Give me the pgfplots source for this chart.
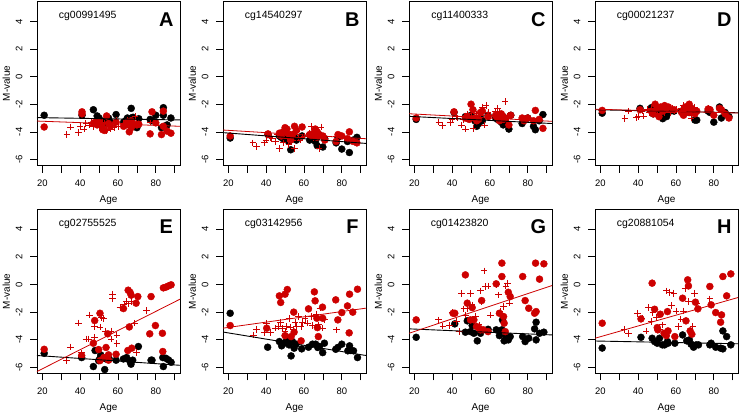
\documentclass[border=0pt]{standalone}
\usepackage{pgfplots}
\pgfplotsset{compat=1.18}
\usepackage{fontspec}
\setmainfont{Liberation Sans}
\definecolor{rd}{RGB}{205,0,0}
\pgfplotsset{
 panel/.style={
  scale only axis, width=143bp, height=164bp,
  xmin=17.2, xmax=92.8, ymin=-6.44, ymax=5.44,
  xtick={20,30,...,90}, xticklabels={20,,40,,60,,80,},
  ytick={-6,-4,-2,0,2,4}, yticklabels={-6,-4,-2,0,2,4},
  tick align=outside, tick pos=left,
  major tick length=7bp,
  tick style={black, line width=0.6bp},
  axis line style={line width=0.8bp},
  yticklabel style={rotate=90, anchor=south, font=\fontsize{9.5}{11}\selectfont},
  yticklabel shift=4bp,
  xticklabel style={font=\fontsize{9.5}{11}\selectfont},
  xticklabel shift=4bp,
  clip mode=individual,
  anchor=north west,
 },
 bk/.style={only marks, mark=*, mark size=3.5bp, black, mark options={fill=black, draw=black}},
 rdot/.style={only marks, mark=*, mark size=3.5bp, rd, mark options={fill=rd, draw=rd}},
 rplus/.style={only marks, mark=+, mark size=3.3bp, rd, mark options={line width=0.8bp}},
 bline/.style={black, line width=0.9bp, no marks},
 rline/.style={rd, line width=0.8bp, no marks},
}
\newcommand{\cgname}[1]{\node[font=\fontsize{10.5}{12}\selectfont] at (axis cs:44,4.4) {#1};
 \node[font=\fontsize{10}{12}\selectfont, rotate=90] at (rel axis cs:-0.215,0.5) {M-value};
 \node[font=\fontsize{10}{12}\selectfont] at (rel axis cs:0.5,-0.213) {Age};}
\newcommand{\plabel}[1]{\node[font=\bfseries\fontsize{20}{22}\selectfont] at (axis cs:85.6,4.15) {#1};}
\begin{document}
\begin{tikzpicture}
\useasboundingbox (0,0) rectangle (740bp,-414bp);
% ---------------- A
\begin{axis}[panel, at={(37bp,-1.5bp)}]
\addplot[bk] coordinates {(21,-2.8)(41,-2.8)(47,-2.4)(48,-3.4)(49,-2.85)(50,-3.0)(51,-3.3)(52,-3.4)(53,-3.3)(54,-3.1)(55,-3.0)(56,-3.3)(59,-2.75)(63,-3.3)(64,-3.2)(65,-3.0)(66,-3.1)(67,-2.3)(67,-3.0)(68,-2.95)(70,-3.7)(71,-3.05)(77,-3.1)(78,-3.2)(80,-2.8)(83,-3.7)(84,-2.25)(84,-2.8)(86,-3.5)(88,-3.0)};
\addplot[rdot] coordinates {(21,-3.65)(41,-2.55)(41,-2.7)(47,-3.4)(48,-3.3)(49,-3.5)(50,-3.3)(51,-3.5)(52,-3.85)(53,-3.9)(54,-2.85)(55,-3.4)(56,-3.6)(59,-3.3)(63,-3.6)(64,-3.5)(65,-3.3)(66,-4.0)(67,-3.7)(67,-3.2)(68,-3.4)(70,-3.5)(71,-3.45)(77,-4.15)(78,-2.55)(80,-3.35)(83,-4.2)(84,-2.5)(84,-3.6)(86,-3.95)(88,-4.1)};
\addplot[rplus] coordinates {(33,-4.2)(35,-3.65)(39,-4.05)(40,-3.6)(42,-3.8)(43,-3.4)(45,-3.5)(46,-3.3)(47,-3.6)(48,-3.4)(49,-3.5)(50,-3.7)(51,-3.6)(52,-3.3)(53,-3.4)(54,-3.9)(55,-3.6)(56,-3.8)(57,-3.5)(58,-3.7)(59,-3.2)(60,-3.6)(63,-3.4)(64,-3.5)(65,-3.2)(66,-3.7)(68,-3.3)(69,-2.9)(70,-3.4)(77,-3.3)};
\addplot[bline] coordinates {(17.2,-2.97)(92.8,-3.14)};
\addplot[rline] coordinates {(17.2,-3.22)(92.8,-3.60)};
\cgname{cg00991495}\plabel{A}
\end{axis}
% ---------------- B
\begin{axis}[panel, at={(223bp,-1.5bp)}]
\addplot[bk] coordinates {(21,-4.45)(41,-4.2)(47,-4.3)(48,-4.4)(49,-4.5)(50,-4.3)(51,-4.6)(52,-4.7)(53,-5.3)(54,-4.5)(55,-4.4)(56,-4.6)(59,-4.3)(63,-4.6)(64,-4.5)(65,-4.4)(66,-4.7)(67,-5.0)(67,-4.3)(68,-4.2)(70,-5.1)(71,-4.5)(77,-4.8)(78,-4.4)(80,-5.25)(83,-4.7)(84,-5.5)(86,-4.6)(88,-4.4)};
\addplot[rdot] coordinates {(21,-4.3)(41,-4.15)(47,-4.1)(48,-4.3)(49,-4.0)(50,-3.7)(51,-3.8)(52,-4.2)(53,-4.6)(54,-4.2)(55,-3.6)(56,-3.9)(59,-3.65)(63,-4.2)(64,-4.3)(65,-4.1)(66,-3.8)(67,-4.0)(67,-4.4)(68,-4.2)(70,-4.3)(71,-4.6)(77,-4.7)(78,-4.2)(80,-4.3)(83,-4.5)(84,-4.0)(86,-4.7)(88,-4.8)};
\addplot[rplus] coordinates {(33,-4.8)(35,-5.05)(39,-4.8)(40,-4.6)(42,-4.4)(43,-4.5)(45,-4.7)(46,-4.2)(47,-5.2)(48,-4.3)(49,-4.8)(50,-4.1)(51,-4.5)(52,-4.9)(53,-4.2)(54,-4.6)(55,-5.2)(56,-4.0)(57,-4.4)(58,-4.6)(59,-4.4)(60,-4.3)(63,-4.1)(64,-3.6)(65,-4.4)(66,-4.0)(68,-5.2)(69,-3.65)(70,-4.4)(77,-4.3)};
\addplot[bline] coordinates {(17.2,-4.06)(92.8,-4.84)};
\addplot[rline] coordinates {(17.2,-3.87)(92.8,-4.50)};
\cgname{cg14540297}\plabel{B}
\end{axis}
% ---------------- C
\begin{axis}[panel, at={(409bp,-1.5bp)}]
\addplot[bk] coordinates {(21,-3.1)(41,-2.6)(47,-2.9)(48,-3.0)(49,-2.9)(50,-2.8)(51,-3.0)(52,-3.2)(53,-3.6)(54,-3.4)(55,-3.0)(56,-3.2)(59,-2.8)(63,-3.0)(64,-3.1)(65,-2.9)(66,-3.3)(67,-3.5)(67,-2.9)(68,-3.2)(70,-3.8)(71,-2.8)(77,-3.4)(78,-3.1)(80,-3.0)(83,-3.6)(84,-3.85)(86,-3.2)(88,-2.75)};
\addplot[rdot] coordinates {(21,-3.0)(41,-2.55)(47,-3.0)(48,-2.9)(49,-3.1)(50,-2.0)(51,-2.4)(52,-3.0)(53,-3.2)(54,-3.1)(55,-2.6)(56,-2.5)(59,-2.9)(63,-2.8)(64,-3.0)(65,-3.2)(66,-2.7)(67,-3.1)(67,-2.9)(68,-3.0)(70,-3.5)(71,-2.8)(77,-3.0)(78,-3.2)(80,-3.0)(83,-3.2)(84,-2.45)(86,-3.1)(88,-3.75)};
\addplot[rplus] coordinates {(33,-3.3)(35,-3.55)(39,-3.35)(40,-3.1)(42,-2.9)(43,-3.0)(45,-3.5)(46,-3.1)(47,-3.8)(48,-2.7)(49,-3.0)(50,-2.9)(51,-3.75)(52,-3.0)(53,-2.7)(54,-3.2)(55,-2.8)(56,-2.2)(57,-3.5)(58,-2.1)(59,-2.6)(60,-2.8)(63,-2.5)(64,-2.3)(65,-2.6)(66,-3.0)(68,-1.8)(69,-2.9)(70,-3.0)(77,-3.0)};
\addplot[bline] coordinates {(17.2,-2.88)(92.8,-3.40)};
\addplot[rline] coordinates {(17.2,-2.69)(92.8,-3.24)};
\cgname{cg11400333}\plabel{C}
\end{axis}
% ---------------- D
\begin{axis}[panel, at={(595bp,-1.5bp)}]
\addplot[bk] coordinates {(21,-2.65)(41,-2.3)(47,-2.25)(48,-2.7)(49,-2.5)(50,-2.6)(51,-2.8)(52,-2.9)(53,-3.05)(54,-2.7)(55,-2.9)(56,-2.6)(59,-2.5)(63,-2.5)(64,-2.7)(65,-2.5)(66,-2.4)(67,-2.6)(67,-2.2)(68,-2.3)(70,-3.15)(71,-3.15)(77,-2.5)(78,-2.6)(80,-3.3)(83,-2.2)(84,-3.0)(86,-2.6)(88,-2.9)};
\addplot[rdot] coordinates {(21,-2.45)(41,-2.4)(47,-2.5)(48,-2.7)(49,-2.0)(50,-2.3)(51,-2.9)(52,-2.2)(53,-2.5)(54,-2.1)(55,-2.3)(56,-2.2)(59,-2.4)(63,-2.6)(64,-2.8)(65,-2.2)(66,-2.4)(67,-2.0)(67,-2.6)(68,-2.3)(70,-2.7)(71,-2.5)(77,-2.35)(78,-2.4)(80,-2.8)(83,-2.3)(84,-2.4)(86,-2.7)(88,-3.0)};
\addplot[rplus] coordinates {(33,-3.05)(35,-2.5)(39,-2.95)(40,-2.9)(42,-2.5)(43,-2.85)(45,-2.4)(46,-2.6)(47,-2.3)(48,-2.7)(49,-2.4)(50,-2.8)(51,-2.3)(52,-2.7)(53,-2.3)(54,-2.6)(55,-2.4)(56,-2.2)(57,-2.6)(58,-2.3)(59,-2.5)(60,-2.4)(63,-2.3)(64,-2.1)(65,-2.5)(66,-2.1)(68,-3.0)(69,-2.4)(70,-2.2)(77,-2.3)};
\addplot[bline] coordinates {(17.2,-2.40)(92.8,-2.62)};
\addplot[rline] coordinates {(17.2,-2.36)(92.8,-2.64)};
\cgname{cg00021237}\plabel{D}
\end{axis}
% ---------------- E
\begin{axis}[panel, at={(37bp,-209.3bp)}]
\addplot[bk] coordinates {(21,-4.99)(40.8,-5.30)(47,-5.95)(47.9,-4.79)(49.8,-5.52)(50.5,-5.35)(50.9,-5.11)(52.6,-5.35)(53,-6.17)(54,-5.42)(55.3,-5.37)(59,-5.49)(62.9,-5.40)(64.6,-5.30)(66.4,-5.59)(66.9,-5.78)(67.8,-5.49)(70.8,-4.50)(77.5,-5.49)(78,-5.49)(83.7,-5.30)(84,-5.95)(85.3,-5.35)(86.7,-5.47)(88.1,-5.64)};
\addplot[rdot] coordinates {(21,-4.70)(40.8,-5.15)(47,-4.26)(47.7,-2.62)(49.8,-4.72)(50.5,-2.09)(50.5,-5.52)(52.5,-5.3)(53.7,-4.57)(54.6,-3.58)(55,-5.49)(55,-5.1)(59,-5.06)(62.9,-1.75)(65.2,-4.79)(65.4,-0.42)(66.4,-0.57)(66,-3.08)(67,-0.78)(67.3,-4.62)(69.6,-1.36)(70.5,-0.88)(76.8,-3.58)(77.5,-0.88)(79.8,-2.98)(83.7,-4.86)(83.5,-3.54)(84,-0.25)(85.3,-0.20)(86.7,-0.11)(88.1,-0.03)};
\addplot[rplus] coordinates {(32.9,-5.54)(34.8,-4.53)(39.2,-2.79)(40.6,-4.96)(43.1,-3.95)(44.5,-3.95)(44.9,-2.21)(47.5,-3.05)(47.7,-3.85)(50.5,-3.10)(51.2,-2.40)(52.3,-2.45)(53.2,-3.37)(56.4,-3.95)(56.4,-3.37)(57.1,-0.71)(57.1,-1.05)(59.4,-4.26)(59.4,-3.66)(61.1,-1.68)(63.2,-1.43)(64.3,-1.24)(65.5,-1.41)(67.3,-1.24)(69.9,-4.94)(75.2,-1.89)(68.9,-2.81)};
\addplot[bline] coordinates {(17.2,-5.15)(92.8,-5.86)};
\addplot[rline] coordinates {(17.2,-6.31)(92.8,-1.07)};
\cgname{cg02755525}\plabel{E}
\end{axis}
% ---------------- F
\begin{axis}[panel, at={(223bp,-209.3bp)}]
\addplot[bk] coordinates {(21,-2.09)(40.8,-4.55)(47,-4.14)(48.2,-4.45)(49.6,-4.26)(50.9,-4.02)(52.1,-4.38)(53.2,-5.18)(53.9,-4.14)(54.8,-4.62)(55.8,-4.33)(58.8,-4.67)(62.4,-4.55)(64.5,-4.33)(66.2,-4.33)(67.3,-4.57)(68.2,-4.50)(69.9,-4.94)(70.8,-4.26)(76.8,-4.70)(77.9,-4.57)(80,-4.33)(83.2,-4.81)(84.1,-4.45)(84.8,-4.79)(86.2,-4.81)(88.3,-5.30)};
\addplot[rdot] coordinates {(21,-2.98)(40.3,-3.17)(47,-0.83)(47.7,-1.31)(50,-0.71)(51.2,-0.37)(50,-3.71)(53.2,-3.78)(54.6,-2.01)(54.8,-3.46)(58.5,-4.09)(62.4,-1.77)(65.5,-0.54)(65.9,-1.19)(66.8,-2.45)(67.1,-3.13)(67.6,-3.78)(69.8,-1.65)(69.9,-2.45)(76.8,-1.12)(77.9,-2.57)(80,-2.04)(83,-1.56)(84.1,-0.71)(83.9,-3.51)(85.8,-2.01)(88.3,-0.35)};
\addplot[rplus] coordinates {(33.2,-3.66)(35,-3.25)(39,-3.49)(40.3,-2.81)(42.4,-3.49)(44.7,-3.17)(46.5,-3.05)(47.7,-2.74)(48.8,-3.17)(50,-3.42)(50.9,-3.05)(52.1,-2.45)(52.6,-3.08)(54.4,-3.29)(55.3,-2.74)(56.2,-3.05)(57.1,-2.33)(58.5,-3.05)(59.2,-2.74)(60.6,-2.45)(62,-2.81)(63.8,-2.33)(64.6,-2.98)(66.4,-2.16)(67.6,-2.93)(68.5,-1.72)(69.9,-3.17)(77.3,-3.29)(71,-2.57)};
\addplot[bline] coordinates {(17.2,-3.45)(92.8,-5.15)};
\addplot[rline] coordinates {(17.2,-3.17)(92.8,-1.72)};
\cgname{cg03142956}\plabel{F}
\end{axis}
% ---------------- G
\begin{axis}[panel, at={(409bp,-209.3bp)}]
\addplot[bk] coordinates {(21,-3.83)(41.4,-2.86)(47,-3.46)(48,-2.64)(49.7,-3.42)(50.6,-2.98)(51.5,-3.54)(53.3,-4.09)(55,-3.54)(59,-3.25)(63.3,-3.29)(65,-3.71)(66.3,-3.29)(66.6,-2.57)(67.5,-4.09)(68.4,-3.78)(69.7,-4.02)(70.7,-3.78)(77.3,-3.78)(78.6,-4.14)(80.5,-3.90)(83.6,-3.22)(84.4,-4.02)(84.4,-2.74)(86.2,-3.54)(88.5,-3.46)};
\addplot[rdot] coordinates {(21,-2.57)(40.5,-2.09)(41.4,-2.09)(47,0.69)(48,-1.36)(49.7,-2.57)(50.6,-1.68)(51.5,-2.57)(52.9,-3.05)(54.2,-3.17)(55,-3.29)(55.6,-1.17)(56.5,-3.29)(59,-3.42)(63.3,0.04)(65,-2.09)(66.3,1.54)(66.3,0.57)(67.2,-2.33)(67.5,-2.81)(68.1,-3.42)(69.7,-0.57)(70.7,-0.88)(77.3,0.57)(78.6,-1.17)(80.5,-1.73)(83.6,-2.09)(84.4,-1.97)(84.1,1.54)(86.2,0.38)(88.5,1.49)};
\addplot[rplus] coordinates {(32.8,-2.57)(35.1,-3.01)(38.7,-2.98)(40,-2.04)(42.3,-2.69)(44,-3.42)(44.9,-0.64)(46.2,-1.77)(47,-2.21)(48,-1.73)(49.7,-0.64)(50.6,-1.48)(52.4,-2.33)(54.2,-2.93)(55,-0.47)(55.6,-1.24)(56.9,0.98)(57.7,-0.15)(59,-0.11)(60.4,-2.21)(63.6,-0.03)(64.5,-0.76)(65.4,-1.97)(67.2,-1.60)(68.4,-0.11)(69.3,0.09)(70.2,-1.36)};
\addplot[bline] coordinates {(17.2,-3.22)(92.8,-3.66)};
\addplot[rline] coordinates {(17.2,-3.54)(92.8,-0.08)};
\cgname{cg01423820}\plabel{G}
\end{axis}
% ---------------- H
\begin{axis}[panel, at={(595bp,-209.3bp)}]
\addplot[bk] coordinates {(21,-4.61)(41.5,-3.83)(47.4,-3.90)(48.7,-4.14)(50.1,-4.26)(51.3,-3.90)(52.8,-4.38)(54,-4.38)(55.5,-4.14)(55.8,-4.26)(59.4,-4.26)(63.5,-3.66)(65.7,-4.09)(67.1,-4.02)(68,-4.33)(69.3,-4.55)(70.7,-4.38)(71.9,-4.38)(77.9,-4.38)(78.6,-4.26)(81,-4.55)(83.6,-4.62)(84.8,-4.67)(84.8,-3.37)(86.8,-3.78)(89,-4.38)};
\addplot[rdot] coordinates {(21,-2.81)(41.5,-2.50)(47.4,0.09)(48.7,-1.80)(50.1,-3.13)(50.4,-3.29)(51.7,-2.16)(53.7,-3.54)(54.9,-3.71)(55.5,-1.97)(55.8,-3.37)(59.4,-3.78)(63.5,-1.00)(65.3,-2.64)(66.2,0.33)(66.6,-0.11)(67.5,-3.37)(68.4,-3.61)(70.3,-1.29)(71.6,-1.77)(77.9,-0.15)(78.6,-1.48)(81,-2.04)(83.6,-2.74)(84.1,-2.21)(84.8,0.57)(86.8,-0.83)(89,0.76)};
\addplot[rplus] coordinates {(32.5,-3.25)(34.9,-3.54)(39.7,-2.09)(42,-2.45)(44.2,-3.37)(45.6,-1.68)(46.9,-2.69)(47.8,-2.02)(49.6,-2.40)(51.3,-3.29)(52.8,-2.93)(54.9,-0.47)(56.7,-0.57)(57.6,-1.53)(58.9,-0.64)(60,-1.92)(61.2,-3.05)(62.6,-2.52)(63.9,-1.92)(64.8,-0.28)(66.6,-1.24)(68.9,-3.05)(69.8,-0.64)(70.7,-1.36)(77.9,-1.05)};
\addplot[bline] coordinates {(17.2,-4.1)(92.8,-4.3)};
\addplot[rline] coordinates {(17.2,-3.9)(92.8,-0.95)};
\cgname{cg20881054}\plabel{H}
\end{axis}
\end{tikzpicture}
\end{document}
